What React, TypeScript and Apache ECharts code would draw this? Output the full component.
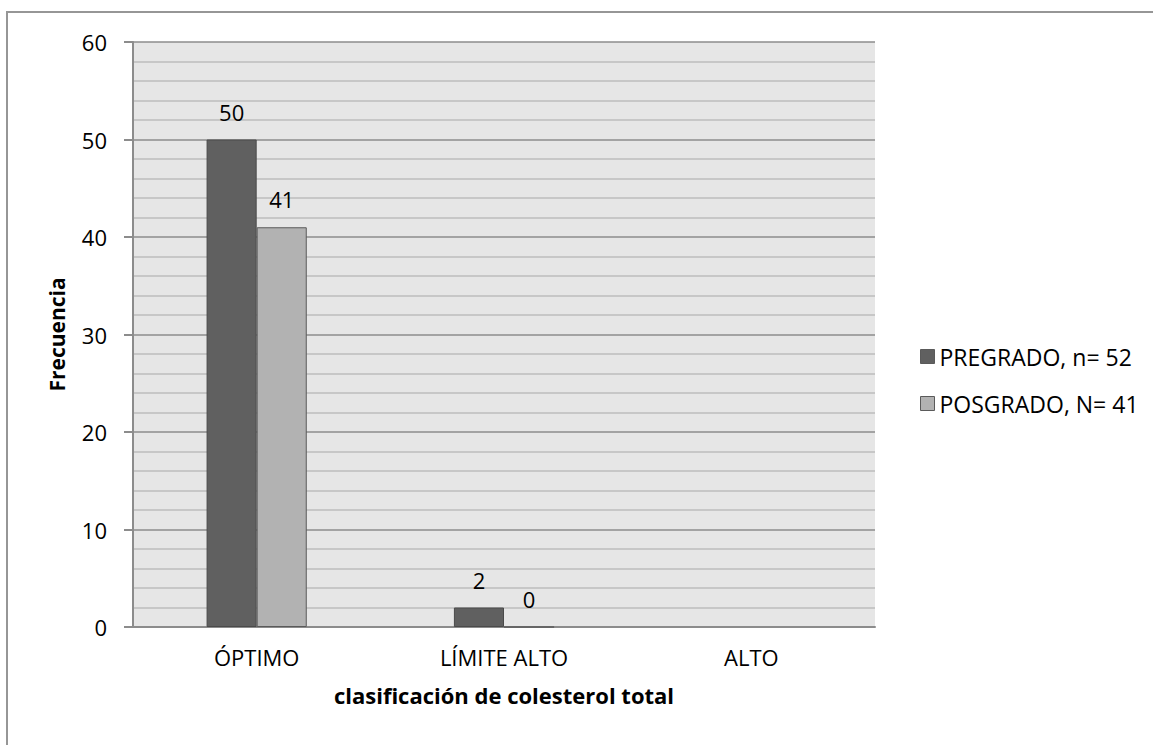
import React, { useEffect, useRef } from "react";
import * as echarts from "echarts";

const categories = ["ÓPTIMO", "LÍMITE ALTO", "ALTO"];
const pregrado = [50, 2, null];
const posgrado = [41, 0, null];
const seriesNames = ["PREGRADO, n= 52", "POSGRADO, N= 41"];
const yTicks = { min: 0, max: 60, interval: 10 };

const FONT = "'Open Sans', 'Noto Sans', sans-serif";
const FS = 22;

export default function App() {
  const ref = useRef<HTMLDivElement>(null);
  useEffect(() => {
    document.body.style.margin = "0";
    const chart = echarts.init(ref.current!, null, { renderer: "svg" });
    const labelStyle = {
      show: true,
      position: "top" as const,
      distance: 17,
      fontSize: FS,
      color: "#000",
      fontFamily: FONT,
    };
    chart.setOption({
      animation: false,
      backgroundColor: "#fff",
      graphic: [
        {
          type: "rect",
          shape: { x: 7, y: 12, width: 1200, height: 800 },
          style: { fill: "none", stroke: "#969696", lineWidth: 2 },
          silent: true,
          z: -1,
        },
      ],
      grid: {
        left: 133,
        top: 42,
        right: 278,
        bottom: 118,
        show: true,
        backgroundColor: "#e6e6e6",
        borderWidth: 0,
      },
      legend: {
        orient: "vertical",
        left: 915,
        top: 340,
        itemWidth: 14,
        itemHeight: 14,
        itemGap: 24,
        itemStyle: { borderColor: "#5a5a5a", borderWidth: 1 },
        icon: "rect",
        textStyle: { fontSize: 23, color: "#000", fontFamily: FONT },
        data: seriesNames,
      },
      xAxis: {
        type: "category",
        data: categories,
        name: "clasificación de colesterol total",
        nameLocation: "middle",
        nameGap: 57,
        nameTextStyle: { fontSize: 22, fontWeight: "bold", color: "#000", fontFamily: FONT },
        axisLine: { show: true, lineStyle: { color: "#8c8c8c", width: 2 } },
        axisTick: { show: false },
        axisLabel: { fontSize: FS, color: "#000", margin: 19, fontFamily: FONT },
        splitLine: { show: false },
      },
      yAxis: {
        type: "value",
        min: yTicks.min,
        max: yTicks.max,
        interval: yTicks.interval,
        name: "Frecuencia",
        nameLocation: "middle",
        nameGap: 66,
        nameRotate: 90,
        nameTextStyle: { fontSize: 21, fontWeight: "bold", color: "#000", fontFamily: FONT },
        axisLine: { show: true, lineStyle: { color: "#8c8c8c", width: 2 } },
        axisTick: { show: true, length: 9, lineStyle: { color: "#8c8c8c", width: 2 } },
        axisLabel: { fontSize: FS, color: "#000", margin: 26, fontFamily: FONT },
        splitLine: { show: true, lineStyle: { color: "#8c8c8c", width: 1.5 } },
        minorTick: { show: false, splitNumber: 5 },
        minorSplitLine: { show: true, lineStyle: { color: "#bdbdbd", width: 1.5 } },
      },
      series: [
        {
          name: seriesNames[0],
          type: "bar",
          data: pregrado,
          barGap: "0%",
          barCategoryGap: "59.5%",
          itemStyle: { color: "#606060", borderColor: "#4a4a4a", borderWidth: 1 },
          label: labelStyle,
        },
        {
          name: seriesNames[1],
          type: "bar",
          data: posgrado,
          itemStyle: { color: "#b2b2b2", borderColor: "#5a5a5a", borderWidth: 1 },
          label: labelStyle,
        },
      ],
    });
    return () => chart.dispose();
  }, []);
  return <div ref={ref} style={{ width: 1153, height: 745 }} />;
}
